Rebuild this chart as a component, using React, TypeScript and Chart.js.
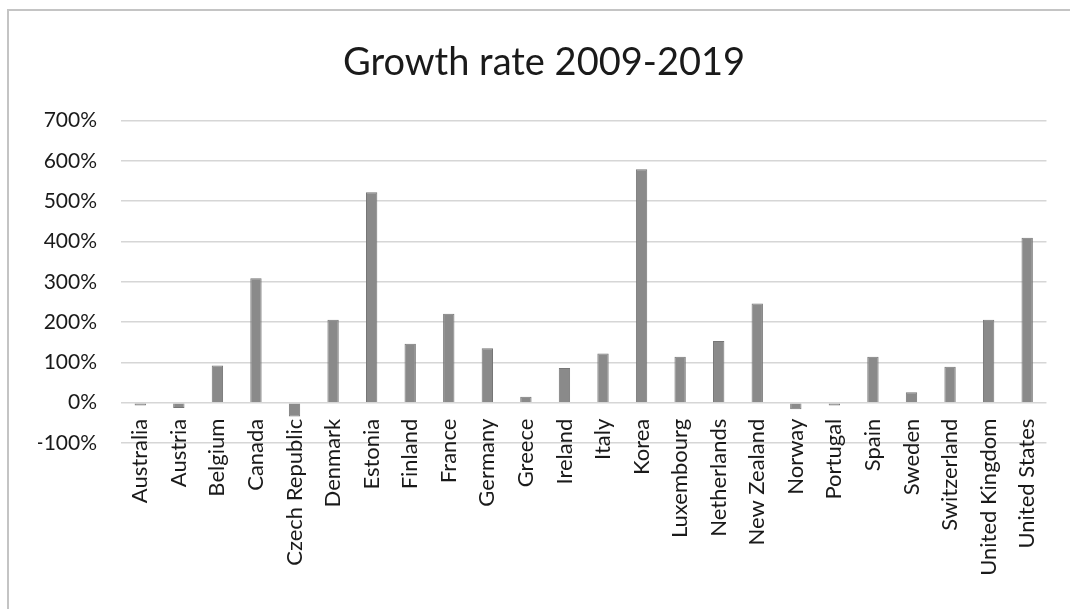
import React, { useEffect, useRef } from "react";
import { Chart, registerables } from "chart.js";

Chart.register(...registerables);

const countries = [
  "Australia", "Austria", "Belgium", "Canada", "Czech Republic", "Denmark",
  "Estonia", "Finland", "France", "Germany", "Greece", "Ireland", "Italy",
  "Korea", "Luxembourg", "Netherlands", "New Zealand", "Norway", "Portugal",
  "Spain", "Sweden", "Switzerland", "United Kingdom", "United States",
];

const growthRate = [
  -7, -13, 92, 309, -34, 206, 522, 146, 221, 135, 15, 86, 122, 579, 114,
  153, 246, -16, -7, 114, 26, 89, 206, 409,
];

const chartTitle = "Growth rate 2009-2019";
const yMin = -100;
const yMax = 700;
const yStep = 100;

export default function App() {
  const canvasRef = useRef<HTMLCanvasElement | null>(null);

  useEffect(() => {
    if (!canvasRef.current) return;
    const font = "Lato, 'Open Sans', sans-serif";
    const chart = new Chart(canvasRef.current, {
      type: "bar",
      data: {
        labels: countries,
        datasets: [
          {
            data: growthRate,
            backgroundColor: "#8a8a8a",
            borderColor: "#767676",
            borderWidth: 1,
            barPercentage: 0.6,
            categoryPercentage: 0.49,
          },
        ],
      },
      options: {
        responsive: false,
        animation: false,
        layout: { padding: { left: 38, right: 20, top: 0, bottom: 166 } },
        plugins: {
          legend: { display: false },
          tooltip: { enabled: false },
          title: {
            display: true,
            text: chartTitle,
            color: "#1a1a1a",
            font: { family: font, size: 38, weight: "normal" },
            padding: { top: 40, bottom: 35 },
          },
        },
        scales: {
          x: {
            position: { y: 0 } as any,
            grid: { display: false, drawTicks: false },
            border: { display: false },
            ticks: {
              color: "#1a1a1a",
              font: { family: font, size: 22 },
              maxRotation: 90,
              minRotation: 90,
              autoSkip: false,
              padding: 16,
            },
          },
          y: {
            min: yMin,
            max: yMax,
            grid: { color: "#d6d6d6", lineWidth: 1.5, drawTicks: false },
            border: { display: false },
            ticks: {
              stepSize: yStep,
              color: "#1a1a1a",
              font: { family: font, size: 21 },
              padding: 24,
              callback: (v: any) => `${v}%`,
            },
            afterFit: (scale: any) => {
              scale.width = 83;
            },
          },
        },
      },
    });
    return () => chart.destroy();
  }, []);

  return (
    <div style={{ position: "fixed", left: 0, top: 0, width: 1070, height: 609, overflow: "hidden", background: "#fff" }}>
      <div style={{ position: "absolute", left: 7, top: 9, width: 1100, height: 700, border: "2px solid #c4c4c4" }} />
      <canvas ref={canvasRef} width={1070} height={609} style={{ position: "absolute", left: 0, top: 0 }} />
    </div>
  );
}
